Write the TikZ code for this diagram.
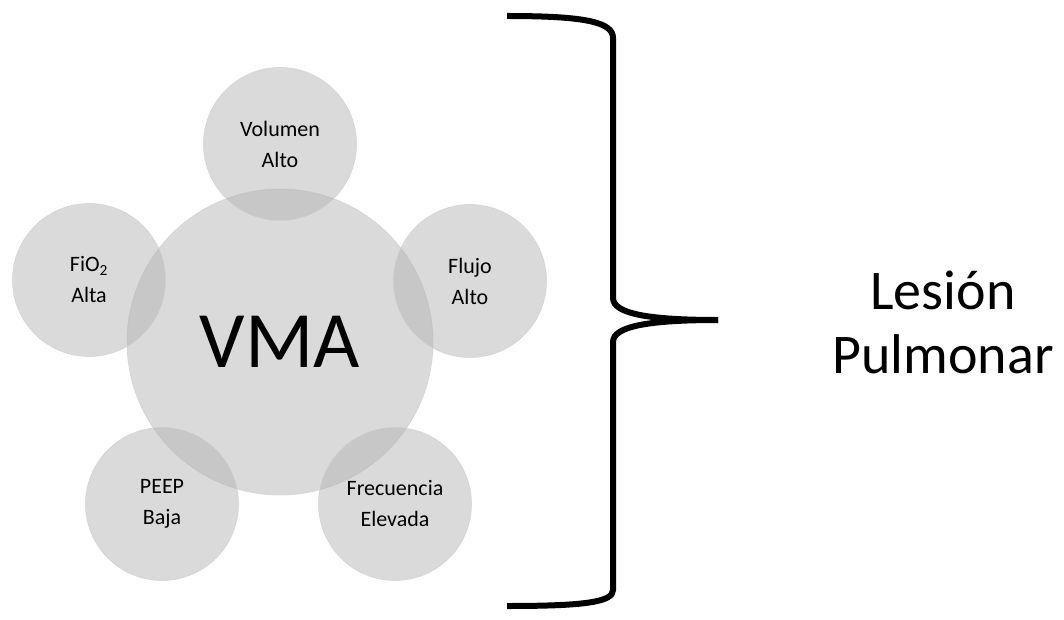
\documentclass[tikz,border=0pt]{standalone}
\usepackage{fontspec}
\setmainfont{Carlito}
\begin{document}
\begin{tikzpicture}[x=1pt,y=-1pt,
  bubble/.style={circle, fill=black!30, fill opacity=0.48, text opacity=1,
    draw=black!20, draw opacity=0.6, line width=0.8pt, inner sep=0pt, align=center},
  hub/.style={bubble, minimum size=306pt, font=\fontsize{80}{90}\selectfont},
  sat/.style={bubble, minimum size=153pt, font=\fontsize{22}{31}\selectfont},
  bracestroke/.style={line width=6pt, line join=round},
  outcome/.style={align=center, font=\fontsize{56}{64}\selectfont}]
\useasboundingbox (0,0) rectangle (1064,620);
\node[hub] (vma) at (280,342) {VMA};
\node[sat] (vol) at (280,144) {Volumen\\Alto};
\node[sat] (fio) at (89,280) {FiO\textsubscript{2}\\Alta};
\node[sat] (flu) at (470,281) {Flujo\\Alto};
\node[sat] (peep) at (162,504) {PEEP\\Baja};
\node[sat] (frec) at (395,504) {Frecuencia\\Elevada};
\coordinate (btop) at (507,16);
\coordinate (btip) at (718,320);
\coordinate (bbot) at (507,606);
\draw[bracestroke] (btop) .. controls (585,16) and (613,22) .. (613,38)
  -- (613,298) .. controls (613,314) and (650,320) .. (btip);
\draw[bracestroke] (btip) .. controls (650,320) and (613,326) .. (613,342)
  -- (613,590) .. controls (613,602) and (585,606) .. (bbot);
\node[outcome] (les) at (943,322) {Lesión\\Pulmonar};
\end{tikzpicture}
\end{document}
